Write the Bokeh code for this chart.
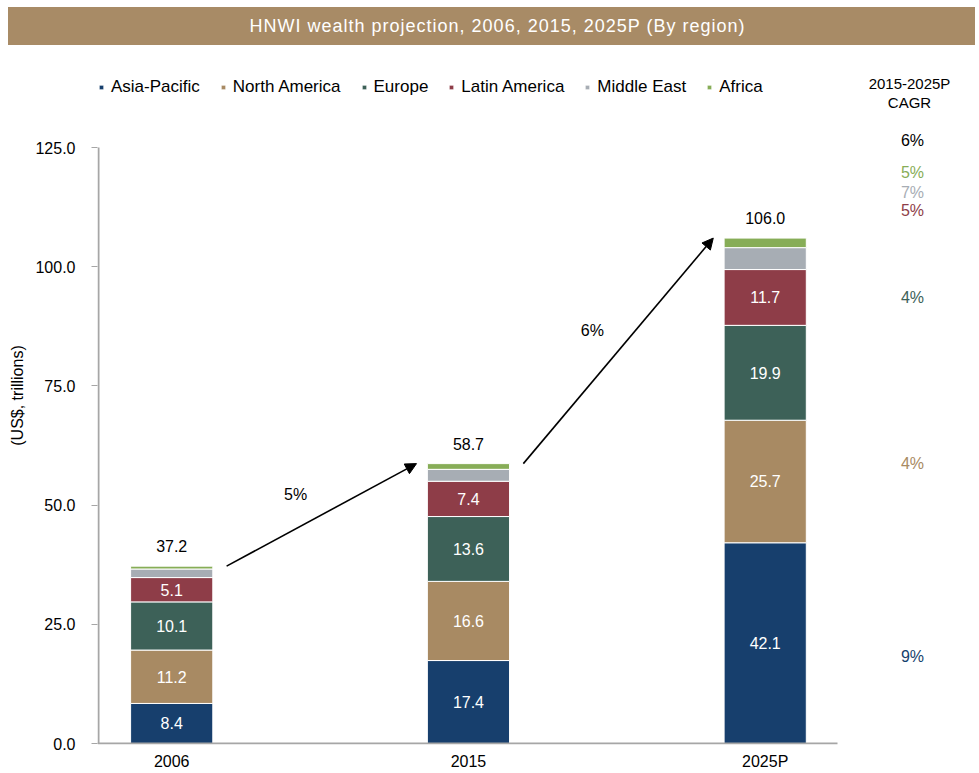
import numpy as np
from bokeh.plotting import figure
from bokeh.layouts import column
from bokeh.models import (ColumnDataSource, FixedTicker, PrintfTickFormatter, Arrow, NormalHead,
                          Range1d, Div)
from bokeh.core.properties import value
from bokeh.embed import file_html
from bokeh.resources import INLINE

# ---------------- data ----------------
title = "HNWI wealth projection, 2006, 2015, 2025P (By region)"
years = ["2006", "2015", "2025P"]
regions = ["Asia-Pacific", "North America", "Europe", "Latin America", "Middle East", "Africa"]
asia_pacific = [8.4, 17.4, 42.1]
north_america = [11.2, 16.6, 25.7]
europe = [10.1, 13.6, 19.9]
latin_america = [5.1, 7.4, 11.7]
middle_east = [1.8, 2.5, 4.6]
africa = [0.6, 1.2, 2.0]
totals = [37.2, 58.7, 106.0]
period_cagr = ["5%", "6%"]
cagr_header = ["2015-2025P", "CAGR"]
cagr_labels = ["6%", "5%", "7%", "5%", "4%", "4%", "9%"]   # total, Africa, Middle East, Latin America, Europe, North America, Asia-Pacific
y_ticks = [0, 25, 50, 75, 100, 125]

# ---------------- style ----------------
colors = ["#173F6D", "#A88A63", "#3D6158", "#8E3D48", "#A7ADB4", "#87AD57"]
cagr_colors = ["#000000", "#87AD57", "#A7ADB4", "#8E3D48", "#3D6158", "#A88A63", "#173F6D"]
band_color = "#A88B66"
axis_color = "#A6A6A6"
FONT = "Liberation Sans"
W = 979
TOP = 46                      # height of the title strip (page px)

# ---------------- title strip ----------------
band = Div(text=(f'<div style="display:block;box-sizing:border-box;margin:7px 0 0 8px;width:967px;'
                 f'height:38px;padding-left:12px;background:{band_color};color:#ffffff;'
                 f'font-family:\'{FONT}\';font-size:18px;letter-spacing:1px;line-height:38px;'
                 f'text-align:center;white-space:nowrap;">{title}</div>'),
           width=W, height=TOP, margin=0)

# ---------------- main chart: page-pixel layout helpers ----------------
X0, SX = 171.2, 296.75       # page x of category 0, px per category
Y0, SY = 743.0, 4.768        # page y of value 0, px per unit

def fx(px):
    return (px - X0) / SX

def fy(py):
    return (Y0 - py) / SY

H = 773 - TOP
FL, FR, FT, FB = 97, 979, TOP, 744   # frame edges in page px

p = figure(width=W, height=H, output_backend="svg", toolbar_location=None,
           x_range=Range1d(fx(FL), fx(FR)), y_range=Range1d(fy(FB), fy(FT)),
           min_border_left=FL, min_border_right=0, min_border_top=0,
           min_border_bottom=773 - FB, margin=0)
p.outline_line_color = None
p.grid.visible = False
p.background_fill_color = "white"
p.border_fill_color = "white"

# ---------------- bars ----------------
x = np.arange(len(years))
series = [asia_pacific, north_america, europe, latin_america, middle_east, africa]
src = ColumnDataSource(dict(x=x, **{r: s for r, s in zip(regions, series)}))
p.vbar_stack(regions, x="x", width=0.277, color=colors, line_color="white", line_width=1,
             source=src, legend_label=regions)

# segment labels (first four regions)
lx, ly, lt = [], [], []
bottom = np.zeros(len(years))
for s_i, s in enumerate(series):
    s = np.array(s)
    if s_i < 4:
        for i in range(len(years)):
            lx.append(x[i]); ly.append(bottom[i] + s[i] / 2); lt.append(f"{s[i]:.1f}")
    bottom += s
p.text(x=lx, y=ly, text=lt, text_color="white", text_align="center", text_baseline="middle",
       text_font=value(FONT), text_font_size="16px")

# totals
p.text(x=x, y=totals, text=[f"{v:.1f}" for v in totals], text_color="black", text_align="center",
       text_baseline="middle", y_offset=-20, text_font=value(FONT), text_font_size="16px")

# growth arrows
for i in range(len(years) - 1):
    xs, ys = x[i] + 0.185, totals[i]
    xe, ye = x[i + 1] - 0.175, totals[i + 1]
    p.add_layout(Arrow(end=NormalHead(size=11, fill_color="black", line_color="black"),
                       x_start=xs, y_start=ys, x_end=xe, y_end=ye,
                       line_color="black", line_width=1.6))
    p.text(x=[(xs + xe) / 2], y=[(ys + ye) / 2], text=[period_cagr[i]], x_offset=-26, y_offset=-20,
           text_align="center", text_baseline="middle", text_color="black",
           text_font=value(FONT), text_font_size="16px")

# ---------------- axes ----------------
# axis lines drawn only over the plotted span
p.segment(x0=[fx(FL)], y0=[0], x1=[fx(837)], y1=[0], line_color=axis_color, line_width=2)
p.segment(x0=[fx(98)], y0=[0], x1=[fx(98)], y1=[y_ticks[-1]], line_color=axis_color, line_width=2)

p.xaxis.ticker = FixedTicker(ticks=list(x))
p.xaxis.major_label_overrides = {int(i): y for i, y in zip(x, years)}
p.xaxis.axis_line_color = None
p.xaxis.major_tick_line_color = None
p.xaxis.major_tick_out = 0
p.xaxis.major_tick_in = 0
p.xaxis.minor_tick_line_color = None
p.xaxis.minor_tick_out = 0
p.xaxis.major_label_standoff = 8
p.xaxis.major_label_text_font = FONT
p.xaxis.major_label_text_font_size = "16px"
p.xaxis.major_label_text_color = "black"

p.yaxis.ticker = FixedTicker(ticks=y_ticks)
p.yaxis.formatter = PrintfTickFormatter(format="%.1f")
p.yaxis.axis_line_color = None
p.yaxis.major_tick_line_color = axis_color
p.yaxis.major_tick_line_width = 1
p.yaxis.major_tick_out = 6
p.yaxis.major_tick_in = 0
p.yaxis.minor_tick_line_color = None
p.yaxis.major_label_standoff = 16
p.yaxis.major_label_text_font = FONT
p.yaxis.major_label_text_font_size = "16px"
p.yaxis.major_label_text_color = "black"
p.yaxis.axis_label = "(US$, trillions)"
p.yaxis.axis_label_text_font = FONT
p.yaxis.axis_label_text_font_size = "16px"
p.yaxis.axis_label_text_font_style = "normal"
p.yaxis.axis_label_text_color = "black"
p.yaxis.axis_label_standoff = 6

# ---------------- legend ----------------
lg = p.legend[0]
lg.orientation = "horizontal"
lg.location = (1, FB - 96.7)
lg.background_fill_alpha = 0
lg.border_line_color = None
lg.padding = 0
lg.margin = 0
lg.spacing = 20
lg.glyph_width = 6
lg.glyph_height = 6
lg.label_standoff = 7
lg.label_height = 20
lg.label_text_font = FONT
lg.label_text_font_size = "17px"
lg.label_text_color = "black"

# ---------------- CAGR column ----------------
p.text(x=[fx(909)] * 2, y=[fy(82.5), fy(101.5)], text=cagr_header, text_align="center",
       text_baseline="middle", text_color="black", text_font=value(FONT), text_font_size="15px")
cagr_py = [140, 171.7, 191.7, 210, 296.7, 463, 656]   # page rows of the CAGR column
p.text(x=[fx(912)] * len(cagr_labels), y=[fy(v) for v in cagr_py], text=cagr_labels,
       text_color=cagr_colors, text_align="center", text_baseline="middle",
       text_font=value(FONT), text_font_size="16px")

layout = column(band, p, spacing=0, margin=0)
open("out.html", "w").write(file_html(layout, INLINE))
